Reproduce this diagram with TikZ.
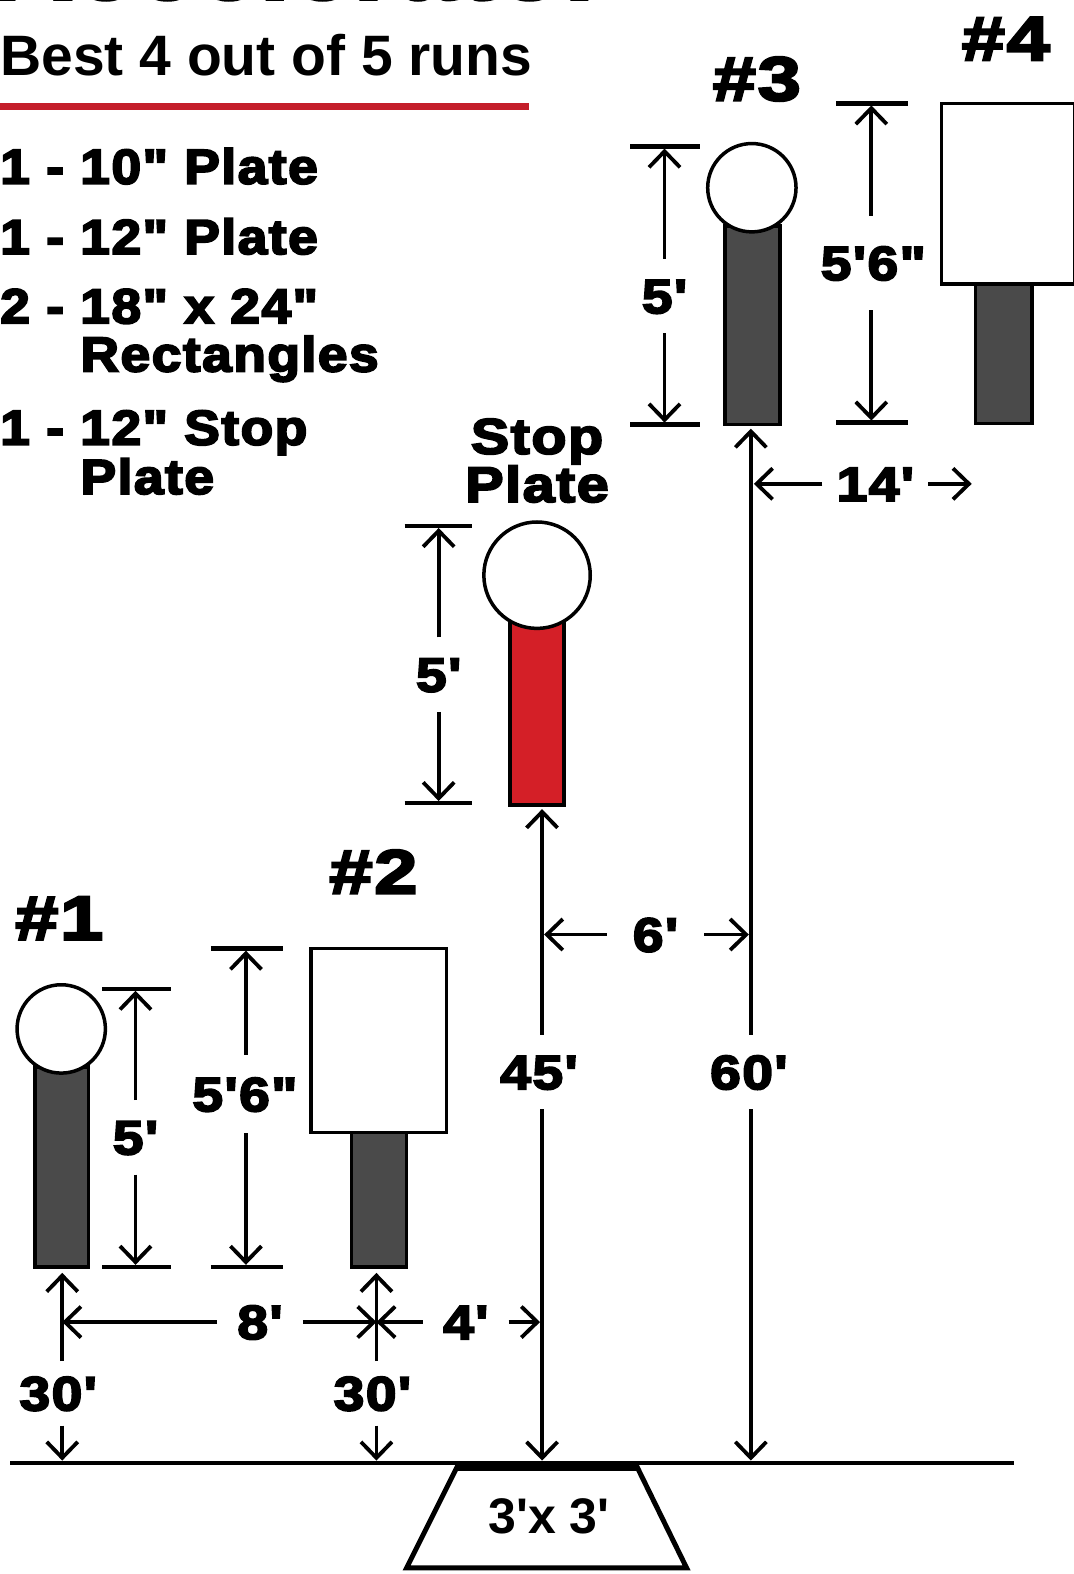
\documentclass[tikz,border=0pt]{standalone}
\usepackage{fontspec}
\usetikzlibrary{arrows.meta}
% heavy, wide sans for the dimension labels
\newfontfamily\heavyfam{Liberation Sans}[Ligatures=TeXOff, FakeStretch=1.15, LetterSpace=3, BoldFeatures={FakeBold=4}]
% heavy sans for the parts list
\newfontfamily\listfam{Liberation Sans}[Ligatures=TeXOff, FakeStretch=1.09, LetterSpace=3, BoldFeatures={FakeBold=4}]
% extra wide heavy sans for the target numbers
\newfontfamily\tagfam{Liberation Sans}[Ligatures=TeXOff, FakeStretch=1.25, LetterSpace=3, BoldFeatures={FakeBold=4}]
% bold sans for the subtitle and the shooting box
\newfontfamily\plainfam{Liberation Sans}[Ligatures=TeXOff]
\definecolor{postgrey}{HTML}{4A4A4A}
\definecolor{stopred}{HTML}{D41F27}
\definecolor{rulered}{HTML}{C41E2A}

\begin{document}
\begin{tikzpicture}[x=1.0037pt,y=-1.0037pt,
  dimline/.style={line width=3.8pt},
  dimarrow/.style={dimline,-{Straight Barb[length=16pt,width=31pt]}},
  tickline/.style={line width=4.5pt},
  dimlab/.style={font=\heavyfam\bfseries\fontsize{48}{48}\selectfont,
    inner xsep=20pt, inner ysep=20pt, text height=34pt, text depth=0pt},
  shortlab/.style={dimlab, inner ysep=15pt},
  taglab/.style={font=\tagfam\bfseries\fontsize{62}{62}\selectfont,
    inner sep=0pt, text height=44pt, text depth=0pt},
  listline/.style={font=\listfam\bfseries\fontsize{49}{49}\selectfont,
    anchor=base west, inner sep=0pt},
  post/.style={draw=black, line width=3.5pt, fill=postgrey},
  plate/.style={draw=black, line width=3.5pt, fill=white},
]
\useasboundingbox (0,0) rectangle (1069,1568);

% ---------- heading, running off the top edge ----------
\begin{scope}
  \clip (0,0) rectangle (1069,40);
  \node[font=\heavyfam\bfseries\fontsize{92}{92}\selectfont, anchor=base west,
        inner sep=0pt] (heading) at (-4,-1) {Accelerator};
\end{scope}
\node[font=\plainfam\bfseries\fontsize{57}{57}\selectfont, anchor=base west, inner sep=0pt]
  (subtitle) at (0,75) {Best 4 out of 5 runs};
\draw[rulered, line width=7pt] (0,106) -- (527,106);

% ---------- parts list ----------
\node[listline] (item1) at (0,183) {1 - 10" Plate};
\node[listline] (item2) at (0,253) {1 - 12" Plate};
\node[listline] (item3) at (0,322) {2 - 18" x 24"};
\node[listline] (item3b) at (80,370) {Rectangles};
\node[listline] (item4) at (0,443) {1 - 12" Stop};
\node[listline] (item4b) at (80,492) {Plate};

% ---------- target #3 (round plate) ----------
\node[taglab] (tag3) at (754,78) {\#3};
\draw[post] (722,225) rectangle (777,423);
\draw[plate] (749,187) circle[radius=44];
\draw[tickline] (628,146) -- (697,146);
\draw[tickline] (628,423) -- (697,423);
\node[dimlab] (h3) at (662,295) {5'};
\coordinate (h3top) at (662,148);
\coordinate (h3bot) at (662,421);
\draw[dimarrow] (h3.north) -- (h3top);
\draw[dimarrow] (h3.south) -- (h3bot);

% ---------- target #4 (rectangle) ----------
\node[taglab] (tag4) at (1002,38) {\#4};
\draw[post] (972,283) rectangle (1028,422);
\draw[plate] (938,103) rectangle (1071,283);
\draw[tickline] (833,103) -- (905,103);
\draw[tickline] (833,421) -- (905,421);
\node[dimlab, inner ysep=30pt] (h4) at (870,262) {5'6"};
\coordinate (h4top) at (868,105);
\coordinate (h4bot) at (868,419);
\draw[dimarrow] (h4.north -| h4top) -- (h4top);
\draw[dimarrow] (h4.south -| h4bot) -- (h4bot);

% ---------- stop plate ----------
\node[font=\heavyfam\bfseries\fontsize{50}{50}\selectfont, anchor=base, inner sep=0pt]
  (stopa) at (535,452) {Stop};
\node[font=\heavyfam\bfseries\fontsize{50}{50}\selectfont, anchor=base, inner sep=0pt]
  (stopb) at (535,500) {Plate};
\draw[post, fill=stopred] (508,620) rectangle (562,802);
\draw[plate] (535,573) circle[radius=53];
\draw[tickline] (403,524) -- (470,524);
\draw[tickline] (403,800) -- (470,800);
\node[dimlab] (hs) at (437,672) {5'};
\coordinate (hstop) at (437,526);
\coordinate (hsbot) at (437,798);
\draw[dimarrow] (hs.north) -- (hstop);
\draw[dimarrow] (hs.south) -- (hsbot);

% ---------- target #1 (round plate) ----------
\node[taglab] (tag1) at (59,914) {\#1};
\draw[post] (35,1063) rectangle (88,1262);
\draw[plate] (61,1025) circle[radius=44];
\draw[tickline] (102,985) -- (170,985);
\draw[tickline] (102,1262) -- (170,1262);
\node[dimlab] (h1) at (135,1133) {5'};
\coordinate (h1top) at (135,987);
\coordinate (h1bot) at (135,1260);
\draw[dimarrow] (h1.north) -- (h1top);
\draw[dimarrow] (h1.south) -- (h1bot);

% ---------- target #2 (rectangle) ----------
\node[taglab] (tag2) at (372,868) {\#2};
\draw[post] (350,1128) rectangle (405,1262);
\draw[plate] (310,945) rectangle (445,1128);
\draw[tickline] (210,945) -- (282,945);
\draw[tickline] (210,1262) -- (282,1262);
\node[dimlab, inner ysep=22pt] (h2) at (244,1090) {5'6"};
\coordinate (h2top) at (245,947);
\coordinate (h2bot) at (245,1260);
\draw[dimarrow] (h2.north -| h2top) -- (h2top);
\draw[dimarrow] (h2.south -| h2bot) -- (h2bot);

% ---------- ground line and shooting box ----------
\coordinate (g1) at (62,1455);
\coordinate (g2) at (375,1455);
\coordinate (g45) at (540,1455);
\coordinate (g60) at (748,1455);
\draw[line width=4pt] (10,1457) -- (1010,1457);
\draw[line width=5pt, fill=white, line join=miter]
  (456,1460) -- (634,1460) -- (684,1562) -- (405,1562) -- cycle;
\draw[line width=8pt] (455,1461) -- (635,1461);
\node[font=\plainfam\bfseries\fontsize{50}{50}\selectfont, inner sep=0pt,
      text height=35pt, text depth=0pt] (box) at (547,1510) {3'x 3'};

% ---------- distances to the targets ----------
\coordinate (b1) at (62,1268);
\coordinate (b2) at (375,1268);
\coordinate (bs) at (540,806);
\coordinate (b3) at (748,427);
\node[shortlab] (d1) at (58,1388) {30'};
\node[shortlab] (d2) at (371,1388) {30'};
\draw[dimarrow] (d1.north -| b1) -- (b1);
\draw[dimarrow] (d1.south -| g1) -- (g1);
\draw[dimarrow] (d2.north -| b2) -- (b2);
\draw[dimarrow] (d2.south -| g2) -- (g2);
\node[dimlab] (d45) at (537,1068) {45'};
\node[dimlab] (d60) at (746,1068) {60'};
\draw[dimarrow] (d45.north -| bs) -- (bs);
\draw[dimarrow] (d45.south -| g45) -- (g45);
\draw[dimarrow] (d60.north -| b3) -- (b3);
\draw[dimarrow] (d60.south -| g60) -- (g60);

% ---------- side offsets ----------
\coordinate (s1) at (62,1317);
\coordinate (s2) at (375,1317);
\coordinate (s45) at (538,1317);
\node[dimlab] (w8) at (259,1317) {8'};
\node[dimlab] (w4) at (464,1317) {4'};
\draw[dimarrow] (w8.west) -- (s1);
\draw[dimarrow] (w8.east) -- (s2);
\draw[dimarrow] (w4.west) -- (s2);
\draw[dimarrow] (w4.east) -- (s45);

\coordinate (m45) at (542,931);
\coordinate (m60) at (746,931);
\node[dimlab, inner xsep=26pt] (w6) at (653,931) {6'};
\draw[dimarrow] (w6.west) -- (m45);
\draw[dimarrow] (w6.east) -- (m60);

\coordinate (n3) at (751,482);
\coordinate (n4) at (968,482);
\node[dimlab, inner xsep=14pt] (w14) at (872,482) {14'};
\draw[dimarrow] (w14.west) -- (n3);
\draw[dimarrow] (w14.east) -- (n4);
\end{tikzpicture}
\end{document}
